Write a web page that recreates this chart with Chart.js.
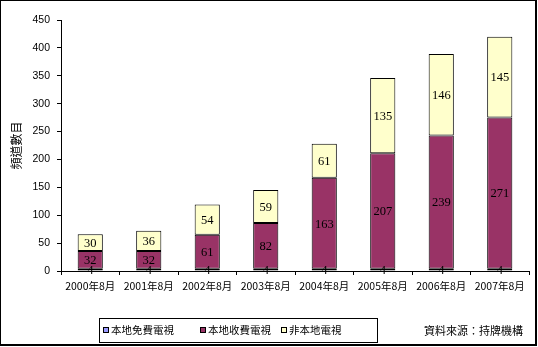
<!DOCTYPE html>
<html>
<head>
<meta charset="utf-8">
<script src="https://cdn.jsdelivr.net/npm/chart.js@4"></script>
<style>
  html, body { margin: 0; padding: 0; background: #fff; }
  canvas { display: block; }
</style>
</head>
<body>
<canvas id="chart" width="538" height="347"></canvas>
<script>
const categories = ["2000年8月", "2001年8月", "2002年8月", "2003年8月", "2004年8月", "2005年8月", "2006年8月", "2007年8月"];
const freeLocal = [4, 4, 4, 4, 4, 4, 4, 4];
const payLocal = [32, 32, 61, 82, 163, 207, 239, 271];
const nonLocal = [30, 36, 54, 59, 61, 135, 146, 145];
const seriesNames = ["本地免費電視", "本地收費電視", "非本地電視"];
const yTitle = "頻道數目";
const sourceNote = "資料來源：持牌機構";

const CJK = "'Noto Sans CJK TC', 'Noto Sans CJK SC', sans-serif";

// numbers in the middle of every segment
const segmentLabels = {
  id: "segmentLabels",
  afterDatasetsDraw(chart) {
    const ctx = chart.ctx;
    ctx.save();
    ctx.font = "12.5px 'Liberation Serif', serif";
    ctx.fillStyle = "#000";
    ctx.textAlign = "center";
    ctx.textBaseline = "middle";
    chart.data.datasets.forEach((ds, i) => {
      const meta = chart.getDatasetMeta(i);
      meta.data.forEach((bar, j) => {
        const y = (bar.y + bar.base) / 2;
        ctx.fillText(String(ds.data[j]), bar.x, y + 1);
      });
    });
    ctx.restore();
  }
};

// boxed legend, source note and outer frame
const extras = {
  id: "extras",
  afterDraw(chart) {
    const ctx = chart.ctx;
    ctx.save();
    ctx.strokeStyle = "#000";
    ctx.lineWidth = 1;
    ctx.strokeRect(99.5, 318.5, 278, 24);

    const itemX = [103, 200, 281];
    ctx.font = "10.5px " + CJK;
    ctx.textBaseline = "middle";
    ctx.textAlign = "left";
    chart.data.datasets.forEach((ds, i) => {
      const x = itemX[i];
      ctx.fillStyle = ds.backgroundColor;
      ctx.fillRect(x, 327, 6, 6);
      ctx.strokeRect(x + 0.5, 327.5, 5, 5);
      ctx.fillStyle = "#000";
      ctx.fillText(ds.label, x + 8, 330.5);
    });

    ctx.font = "11px " + CJK;
    ctx.fillText(sourceNote, 424, 330.5);

    ctx.fillStyle = "#000";
    ctx.fillRect(0, 0, 537, 1);
    ctx.fillRect(0, 0, 1, 346);
    ctx.fillRect(535, 0, 2, 346);
    ctx.fillRect(0, 344, 537, 2);
    ctx.restore();
  }
};

function makeSet(label, data, color) {
  return {
    label: label,
    data: data,
    backgroundColor: color,
    borderColor: "#000",
    borderWidth: 1,
    borderSkipped: false,
    categoryPercentage: 1,
    barPercentage: 0.43
  };
}

new Chart(document.getElementById("chart"), {
  type: "bar",
  data: {
    labels: categories,
    datasets: [
      makeSet(seriesNames[0], freeLocal, "#9999FF"),
      makeSet(seriesNames[1], payLocal, "#993366"),
      makeSet(seriesNames[2], nonLocal, "#FFFFCC")
    ]
  },
  options: {
    responsive: false,
    animation: false,
    layout: { padding: { top: 20, right: 9, bottom: 0, left: 0 } },
    plugins: {
      legend: { display: false },
      tooltip: { enabled: false }
    },
    scales: {
      x: {
        stacked: true,
        afterFit: s => { s.height = 76; },
        border: { display: true, color: "#000", width: 1 },
        grid: { display: true, drawOnChartArea: false, tickLength: 4, color: "#000" },
        ticks: {
          color: "#000",
          padding: 5,
          maxRotation: 0,
          autoSkip: false,
          font: { family: CJK, size: 10.5 }
        }
      },
      y: {
        stacked: true,
        min: 0,
        max: 450,
        afterFit: s => { s.width = 61; },
        border: { display: true, color: "#000", width: 1 },
        grid: { display: true, drawOnChartArea: false, tickLength: 4, color: "#000" },
        ticks: {
          stepSize: 50,
          color: "#000",
          padding: 7,
          font: { family: "'Liberation Sans', sans-serif", size: 10.5 }
        },
        title: {
          display: true,
          text: yTitle,
          color: "#000",
          padding: { top: 9, bottom: 0 },
          font: { family: CJK, size: 12 }
        }
      }
    }
  },
  plugins: [segmentLabels, extras]
});
</script>
</body>
</html>
